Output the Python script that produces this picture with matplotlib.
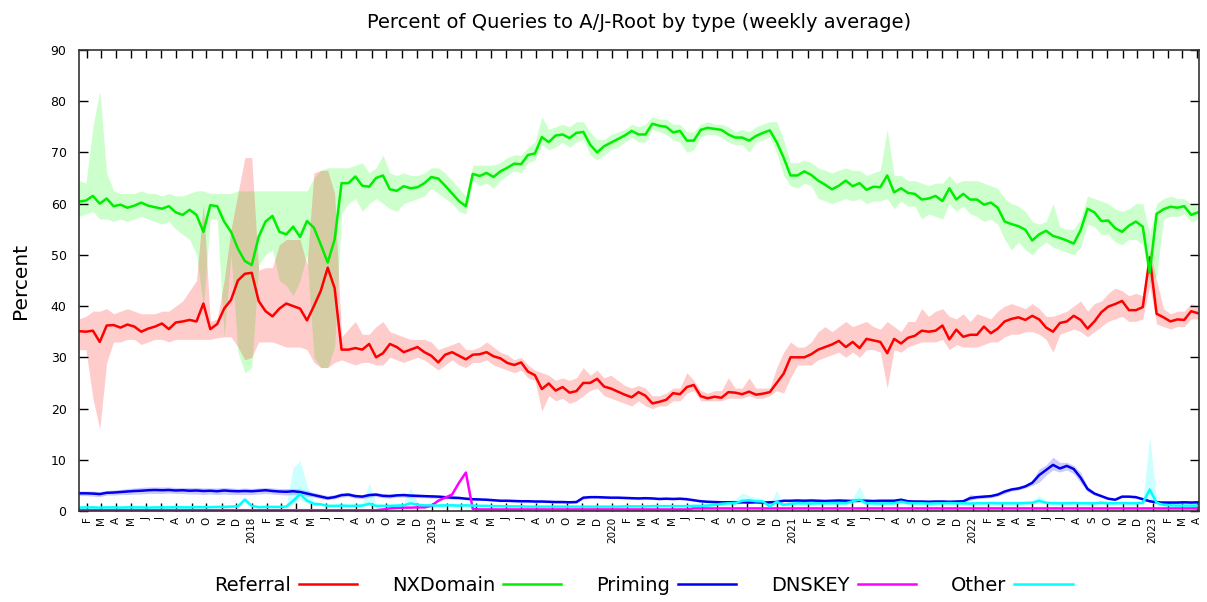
import pandas as pd
import matplotlib.pyplot as plt

# two-week samples
weeks = pd.date_range('2017-01-16', periods=163, freq='14D')

referral = [
    35.1, 35.0, 35.2, 33.0, 36.2, 36.3, 35.8, 36.4, 36.0, 35.0,
    35.6, 36.0, 36.6, 35.5, 36.8, 37.0, 37.3, 37.0, 40.5, 35.5,
    36.5, 39.5, 41.2, 45.0, 46.3, 46.5, 41.0, 39.0, 38.0, 39.5,
    40.5, 40.0, 39.5, 37.2, 40.0, 43.0, 47.5, 43.5, 31.5, 31.5,
    31.8, 31.5, 32.6, 30.0, 30.8, 32.6, 32.0, 31.0, 31.5, 32.0,
    31.0, 30.3, 29.0, 30.5, 31.0, 30.3, 29.6, 30.5, 30.6, 31.0,
    30.2, 29.8, 28.9, 28.5, 29.0, 27.2, 26.5, 23.8, 24.9, 23.5,
    24.2, 23.1, 23.4, 25.0, 25.0, 25.8, 24.3, 23.9, 23.3, 22.7,
    22.2, 23.2, 22.5, 21.0, 21.3, 21.7, 23.0, 22.8, 24.2, 24.6,
    22.4, 22.0, 22.3, 22.1, 23.2, 23.1, 22.8, 23.3, 22.7, 22.9,
    23.2, 25.0, 26.8, 30.0, 30.0, 30.0, 30.6, 31.5, 32.0, 32.5,
    33.2, 32.0, 33.0, 31.8, 33.6, 33.3, 33.0, 30.8, 33.6, 32.7,
    33.8, 34.2, 35.2, 35.0, 35.2, 36.2, 33.5, 35.4, 34.0, 34.4,
    34.4, 36.0, 34.7, 35.6, 37.0, 37.5, 37.8, 37.3, 38.1, 37.4,
    35.8, 35.0, 36.7, 37.0, 38.1, 37.3, 35.6, 37.0, 38.8, 39.9,
    40.4, 41.0, 39.2, 39.2, 39.8, 49.5, 38.5, 37.8, 37.0, 37.4,
    37.3, 39.0, 38.6]
referral_hi = [
    37.5, 38.0, 39.0, 39.0, 39.5, 38.5, 39.0, 39.5, 39.0, 38.5,
    38.5, 38.5, 39.0, 39.0, 40.0, 41.0, 43.0, 45.0, 60.0, 37.0,
    37.5, 45.0, 55.0, 62.0, 69.0, 69.0, 47.0, 47.5, 47.5, 52.0,
    53.0, 53.0, 53.0, 48.0, 66.0, 66.5, 66.5, 62.0, 34.0, 35.5,
    37.0, 34.5, 34.5, 36.0, 37.0, 35.0, 34.5, 34.0, 33.5, 33.5,
    33.5, 33.0, 31.5, 32.0, 32.5, 33.0, 31.5, 31.5, 32.0, 33.0,
    32.0, 31.0, 30.5, 29.5, 30.0, 28.5, 27.5, 27.0, 26.5, 25.5,
    26.0, 25.5, 26.0, 28.0, 26.5, 27.5, 26.0, 26.5, 25.5, 24.5,
    24.0, 24.5, 24.0, 22.5, 22.5, 23.0, 24.0, 24.0, 27.0, 25.5,
    23.5, 23.0, 23.5, 23.5, 26.0, 24.0, 24.0, 26.0, 24.0, 24.0,
    24.0, 28.0, 31.0, 33.0, 32.0, 32.0, 33.0, 35.0, 36.0, 35.0,
    36.0, 37.0, 36.0, 36.5, 37.0, 36.0, 35.5, 37.0, 36.0, 35.0,
    37.0, 37.0, 39.5, 38.0, 39.0, 39.5, 38.0, 37.5, 38.5, 37.0,
    38.5, 38.0, 37.5, 39.0, 40.0, 40.5, 40.0, 39.5, 40.5, 39.5,
    38.0, 38.0, 38.5, 39.0, 40.0, 41.0, 39.0, 40.5, 41.0, 42.5,
    43.5, 43.0, 42.0, 42.5, 42.0, 51.0, 45.0, 39.5, 38.5, 39.0,
    39.0, 40.5, 40.0]
referral_lo = [
    31.5, 31.5, 22.0, 16.0, 29.0, 33.0, 33.0, 33.5, 33.5, 32.5,
    33.0, 33.5, 33.5, 33.0, 33.5, 33.5, 33.5, 33.5, 33.5, 33.5,
    33.8, 34.0, 34.0, 32.0, 29.5, 30.0, 33.0, 33.0, 33.0, 32.5,
    32.0, 32.0, 32.0, 31.5, 29.0, 28.0, 28.0, 29.0, 29.5, 29.0,
    28.5, 29.0, 29.0, 28.5, 28.5, 30.0, 29.5, 29.0, 29.5, 30.0,
    29.5, 28.5, 27.5, 28.5, 29.5, 28.5, 28.0, 29.0, 29.0, 29.5,
    28.5, 28.0, 27.5, 27.0, 27.5, 26.0, 25.5, 19.5, 22.5, 21.5,
    22.0, 21.0, 21.5, 22.5, 23.5, 24.0, 22.5, 22.0, 21.5, 21.0,
    20.5, 21.5, 20.5, 20.0, 20.5, 20.5, 21.5, 21.5, 23.0, 23.5,
    21.5, 21.5, 21.5, 21.5, 22.0, 22.0, 22.0, 22.5, 22.0, 22.0,
    22.5, 23.5, 23.0, 26.0, 28.5, 28.5, 28.5, 29.5, 30.0, 30.5,
    31.0, 30.0, 31.0, 30.0, 31.5, 31.5, 31.0, 24.0, 31.5, 31.0,
    32.0, 32.5, 33.0, 33.0, 33.0, 33.5, 31.5, 32.5, 32.0, 32.0,
    32.0, 32.5, 33.0, 33.0, 34.0, 34.5, 34.5, 35.0, 35.0, 34.5,
    33.5, 31.0, 34.5, 35.0, 35.5, 35.0, 34.0, 35.0, 36.0, 37.0,
    37.5, 38.0, 37.0, 37.0, 37.5, 44.0, 36.5, 36.0, 35.5, 36.0,
    36.0, 37.5, 37.5]

nxdomain = [
    60.4, 60.6, 61.5, 60.0, 61.0, 59.5, 59.8, 59.2, 59.6, 60.2,
    59.6, 59.3, 59.0, 59.5, 58.3, 57.8, 58.8, 57.8, 54.5, 59.7,
    59.5, 56.5, 54.5, 51.2, 48.8, 48.0, 53.5, 56.5, 57.6, 54.5,
    54.0, 55.5, 53.5, 56.6, 55.3, 52.0, 48.5, 53.0, 64.0, 64.0,
    65.3, 63.5, 63.3, 65.0, 65.5, 62.8, 62.5, 63.4, 63.0, 63.2,
    64.0, 65.2, 64.9, 63.5, 62.0, 60.5, 59.5, 65.8, 65.4, 66.0,
    65.2, 66.3, 67.0, 67.8, 67.7, 69.5, 69.8, 73.0, 72.0, 73.3,
    73.5, 72.8, 73.8, 74.0, 71.5, 70.0, 71.2, 71.9, 72.6, 73.3,
    74.2, 73.5, 73.5, 75.6, 75.2, 75.0, 73.9, 74.2, 72.3, 72.3,
    74.4, 74.8, 74.6, 74.4, 73.5, 72.9, 72.9, 72.3, 73.2, 73.8,
    74.3, 72.0, 69.0, 65.5, 65.5, 66.3, 65.6, 64.5, 63.7, 62.8,
    63.5, 64.5, 63.4, 64.0, 62.7, 63.3, 63.2, 65.5, 62.2, 63.0,
    62.1, 61.9, 60.8, 61.0, 61.5, 60.5, 63.0, 60.8, 61.9, 60.8,
    60.8, 59.8, 60.2, 59.2, 56.5, 56.0, 55.6, 54.9, 52.8, 54.0,
    54.7, 53.7, 53.3, 52.8, 52.2, 54.8, 59.0, 58.3, 56.6, 56.7,
    55.2, 54.5, 55.7, 56.5, 55.5, 46.5, 58.0, 58.9, 59.4, 59.2,
    59.5, 57.8, 58.3]
nxdomain_hi = [
    64.5, 64.0, 75.0, 82.0, 66.0, 62.5, 62.0, 62.0, 62.0, 62.5,
    62.0, 62.0, 61.5, 62.0, 61.5, 61.5, 62.0, 62.5, 62.5, 62.0,
    62.0, 62.0, 62.0, 62.5, 62.5, 62.5, 62.5, 62.5, 62.5, 62.5,
    62.5, 62.5, 62.5, 62.5, 65.0, 66.5, 67.0, 67.0, 67.0, 67.0,
    67.5, 68.0, 66.0, 67.0, 69.5, 66.0, 65.5, 66.0, 65.5, 65.5,
    66.0, 67.0, 67.0, 66.0, 64.5, 63.0, 61.5, 67.5, 67.5, 67.5,
    67.5, 68.0, 69.0, 69.5, 69.5, 71.0, 72.0, 77.0, 74.5, 75.0,
    75.5, 75.0, 76.0, 76.0, 74.0, 72.5, 72.5, 73.5, 74.0, 74.5,
    75.5, 75.0, 75.5, 77.0, 76.5, 76.5, 75.5, 75.5, 74.0, 74.0,
    75.5, 76.0, 75.5, 75.5, 75.0, 74.0, 74.5, 74.0, 75.0, 75.5,
    76.0, 76.0, 72.5, 68.0, 68.0, 68.5, 68.0, 67.0, 66.5, 66.0,
    66.5, 67.0, 66.5, 66.5, 65.5, 66.0, 66.5, 74.5, 65.5, 65.5,
    64.5, 64.5, 64.0, 63.5, 64.0, 64.0, 65.5, 64.0, 64.5, 64.5,
    64.5, 64.0, 63.5, 63.0, 61.0, 60.0, 59.5, 58.5, 56.5, 56.0,
    56.5, 60.0, 55.5, 55.0, 55.0, 57.0, 61.5, 61.0, 60.5, 60.0,
    59.0, 58.5, 59.0, 60.0, 60.0, 54.0, 60.0, 61.0, 61.5, 61.0,
    61.0, 60.0, 59.5]
nxdomain_lo = [
    57.5, 58.0, 58.5, 57.0, 57.0, 56.5, 57.0, 56.5, 57.0, 57.5,
    57.0, 56.5, 56.0, 56.5, 55.0, 54.0, 53.0, 50.0, 40.0, 57.0,
    57.0, 34.0, 50.0, 31.0, 27.0, 28.0, 48.0, 50.0, 51.0, 45.0,
    44.0, 42.0, 45.0, 50.0, 30.0, 28.0, 28.0, 32.0, 58.0, 60.0,
    61.0, 58.5, 60.0, 61.0, 60.0, 59.0, 58.5, 60.0, 60.5, 61.0,
    61.5, 63.0, 62.0, 61.0, 60.0, 58.5, 58.0, 64.5, 63.5, 64.0,
    63.0, 64.5, 65.5, 66.5, 66.0, 68.0, 68.5, 71.5, 70.5, 71.0,
    72.0, 71.0, 72.0, 72.5, 69.5, 68.5, 69.5, 70.5, 71.0, 72.0,
    73.0, 72.0, 72.0, 74.5, 74.0, 73.5, 72.5, 72.0, 70.0, 70.5,
    73.0, 73.5, 73.5, 73.0, 72.0, 71.5, 71.5, 70.0, 72.0, 72.5,
    73.0, 70.0, 65.5, 63.5, 63.0, 64.0, 63.5, 61.0, 60.5, 60.0,
    60.5, 61.0, 60.5, 61.0, 60.0, 60.5, 60.5, 61.0, 59.0, 60.5,
    59.5, 59.5, 57.0, 58.0, 57.5, 57.0, 60.0, 58.5, 59.5, 58.0,
    57.5, 56.5, 57.0, 56.0, 53.0, 51.0, 52.5, 51.0, 50.0, 51.5,
    52.5, 51.5, 51.0, 50.5, 50.0, 51.5, 56.0, 55.5, 54.0, 54.0,
    52.5, 52.0, 53.0, 53.0, 52.0, 44.5, 46.0, 57.0, 57.5, 57.5,
    58.0, 56.5, 57.0]

priming = [
    3.45, 3.45, 3.4, 3.3, 3.55, 3.6, 3.7, 3.8, 3.9, 3.95,
    4.05, 4.1, 4.05, 4.1, 4.0, 4.05, 3.95, 4.0, 3.9, 3.95,
    3.85, 4.0, 3.9, 3.85, 3.9, 3.85, 3.95, 4.05, 3.9, 3.8,
    3.75, 3.85, 3.7, 3.4, 3.1, 2.8, 2.5, 2.7, 3.1, 3.2,
    2.9, 2.8, 3.1, 3.2, 2.95, 2.9, 3.05, 3.1, 3.0, 2.95,
    2.9, 2.85, 2.8, 2.7, 2.6, 2.55, 2.4, 2.3, 2.25, 2.2,
    2.1, 2.0, 2.0, 1.95, 1.9, 1.9, 1.85, 1.85, 1.8, 1.75,
    1.75, 1.7, 1.75, 2.6, 2.7, 2.7, 2.65, 2.6, 2.6, 2.55,
    2.5, 2.45, 2.5, 2.45, 2.35, 2.4, 2.35, 2.4, 2.3, 2.1,
    1.9, 1.8, 1.75, 1.7, 1.7, 1.65, 1.7, 1.65, 1.7, 1.65,
    1.7, 1.75, 2.0, 2.0, 2.05, 2.0, 2.05, 2.0, 1.95, 2.0,
    2.05, 2.0, 1.95, 2.0, 2.0, 1.95, 2.0, 2.0, 2.0, 2.2,
    1.9, 1.85, 1.85, 1.8, 1.85, 1.85, 1.8, 1.85, 1.9, 2.5,
    2.7, 2.8, 2.9, 3.2, 3.8, 4.2, 4.4, 4.8, 5.5, 7.0,
    8.0, 9.0, 8.3, 8.8, 8.2, 6.5, 4.3, 3.4, 2.9, 2.4,
    2.2, 2.8, 2.8, 2.7, 2.3, 1.9, 1.7, 1.65, 1.65, 1.65,
    1.7, 1.65, 1.7]
priming_hi = [
    3.9, 3.9, 3.9, 3.8, 4.0, 4.1, 4.2, 4.4, 4.5, 4.6,
    4.7, 4.7, 4.7, 4.7, 4.6, 4.6, 4.6, 4.6, 4.5, 4.5,
    4.5, 4.6, 4.5, 4.4, 4.5, 4.4, 4.5, 4.6, 4.5, 4.4,
    4.4, 4.4, 4.3, 4.0, 3.6, 3.3, 3.0, 3.2, 3.5, 3.6,
    3.3, 3.2, 3.5, 3.6, 3.4, 3.3, 3.4, 3.5, 3.4, 3.3,
    3.2, 3.2, 3.1, 3.0, 2.9, 2.8, 2.7, 2.6, 2.5, 2.4,
    2.3, 2.2, 2.2, 2.1, 2.1, 2.1, 2.0, 2.0, 2.0, 1.9,
    1.9, 1.9, 2.0, 2.8, 2.9, 2.9, 2.85, 2.8, 2.8, 2.75,
    2.7, 2.65, 2.7, 2.65, 2.55, 2.6, 2.55, 2.6, 2.5, 2.3,
    2.1, 2.0, 1.95, 1.9, 1.9, 1.85, 1.9, 1.85, 1.9, 1.85,
    1.9, 1.95, 2.2, 2.2, 2.25, 2.2, 2.25, 2.2, 2.15, 2.2,
    2.25, 2.2, 2.15, 2.2, 2.2, 2.15, 2.2, 2.2, 2.2, 2.5,
    2.1, 2.05, 2.05, 2.0, 2.05, 2.05, 2.0, 2.05, 2.1, 3.2,
    3.0, 3.1, 3.2, 3.5, 4.1, 4.5, 4.7, 5.1, 6.0, 8.2,
    9.0, 10.5, 9.5, 9.5, 8.9, 7.5, 4.8, 3.7, 3.1, 2.6,
    2.4, 3.0, 3.0, 2.9, 2.5, 2.1, 1.9, 1.85, 1.85, 1.85,
    1.9, 1.85, 1.9]
priming_lo = [
    3.0, 3.0, 2.9, 2.8, 3.1, 3.1, 3.2, 3.2, 3.3, 3.3,
    3.4, 3.4, 3.4, 3.5, 3.4, 3.4, 3.3, 3.3, 3.2, 3.3,
    3.2, 3.3, 3.2, 3.2, 3.2, 3.2, 3.3, 3.4, 3.3, 3.2,
    3.1, 3.2, 3.1, 2.9, 2.7, 2.4, 2.2, 2.4, 2.7, 2.8,
    2.5, 2.4, 2.7, 2.8, 2.6, 2.5, 2.7, 2.7, 2.6, 2.6,
    2.6, 2.5, 2.5, 2.4, 2.3, 2.3, 2.2, 2.1, 2.05, 2.0,
    1.9, 1.8, 1.8, 1.75, 1.7, 1.7, 1.65, 1.65, 1.6, 1.55,
    1.55, 1.5, 1.5, 2.3, 2.5, 2.5, 2.45, 2.4, 2.4, 2.35,
    2.3, 2.25, 2.3, 2.25, 2.15, 2.2, 2.15, 2.2, 2.1, 1.9,
    1.7, 1.6, 1.55, 1.5, 1.5, 1.45, 1.5, 1.45, 1.5, 1.45,
    1.5, 1.55, 1.8, 1.8, 1.85, 1.8, 1.85, 1.8, 1.75, 1.8,
    1.85, 1.8, 1.75, 1.8, 1.8, 1.75, 1.8, 1.8, 1.8, 1.9,
    1.7, 1.65, 1.65, 1.6, 1.65, 1.65, 1.6, 1.65, 1.7, 2.1,
    2.4, 2.5, 2.6, 2.9, 3.4, 3.9, 4.1, 4.5, 5.0, 5.6,
    7.0, 8.0, 7.6, 8.0, 7.3, 5.5, 3.8, 3.1, 2.7, 2.2,
    2.0, 2.6, 2.6, 2.5, 2.1, 1.7, 1.5, 1.45, 1.45, 1.45,
    1.5, 1.45, 1.5]

dnskey = [
    0.15, 0.15, 0.15, 0.15, 0.15, 0.15, 0.15, 0.15, 0.15, 0.15,
    0.15, 0.15, 0.15, 0.15, 0.15, 0.15, 0.15, 0.15, 0.15, 0.15,
    0.15, 0.15, 0.15, 0.15, 0.15, 0.15, 0.15, 0.15, 0.15, 0.15,
    0.15, 0.15, 0.15, 0.15, 0.15, 0.15, 0.15, 0.15, 0.15, 0.15,
    0.15, 0.15, 0.15, 0.15, 0.3, 0.5, 0.6, 0.65, 0.65, 0.7,
    0.7, 1.0, 2.0, 2.6, 3.2, 5.5, 7.5, 0.4, 0.3, 0.3,
    0.3, 0.3, 0.3, 0.3, 0.3, 0.3, 0.3, 0.3, 0.3, 0.3,
    0.3, 0.3, 0.3, 0.3, 0.3, 0.3, 0.3, 0.3, 0.3, 0.3,
    0.3, 0.3, 0.3, 0.3, 0.3, 0.3, 0.3, 0.3, 0.3, 0.5,
    0.5, 0.5, 0.5, 0.5, 0.5, 0.5, 0.5, 0.5, 0.5, 0.5,
    0.5, 0.5, 0.5, 0.5, 0.5, 0.5, 0.5, 0.5, 0.5, 0.5,
    0.5, 0.5, 0.5, 0.5, 0.5, 0.5, 0.5, 0.5, 0.5, 0.5,
    0.5, 0.5, 0.5, 0.5, 0.5, 0.5, 0.5, 0.5, 0.5, 0.5,
    0.5, 0.5, 0.5, 0.5, 0.5, 0.5, 0.5, 0.5, 0.5, 0.5,
    0.5, 0.5, 0.5, 0.5, 0.5, 0.5, 0.5, 0.5, 0.5, 0.5,
    0.5, 0.5, 0.5, 0.5, 0.5, 0.5, 0.5, 0.5, 0.5, 0.5,
    0.5, 0.5, 0.5]

other = [
    0.65, 0.7, 0.7, 0.65, 0.7, 0.7, 0.65, 0.7, 0.7, 0.7,
    0.65, 0.7, 0.7, 0.7, 0.75, 0.7, 0.7, 0.75, 0.75, 0.75,
    0.8, 0.8, 0.85, 0.9, 2.2, 1.0, 0.75, 0.8, 0.8, 0.8,
    0.85, 2.0, 3.3, 2.0, 1.4, 1.3, 1.0, 1.0, 1.05, 1.0,
    1.0, 1.05, 1.4, 1.0, 1.0, 1.0, 1.05, 1.1, 1.5, 1.2,
    1.1, 1.1, 1.05, 1.1, 1.1, 1.05, 1.1, 1.05, 1.0, 1.0,
    0.95, 0.95, 0.9, 0.9, 0.9, 0.85, 0.85, 0.85, 0.85, 0.85,
    0.85, 0.85, 0.85, 0.85, 0.85, 0.85, 0.85, 0.85, 0.85, 0.9,
    0.9, 0.9, 0.9, 0.95, 0.95, 0.95, 0.95, 0.95, 0.95, 1.0,
    1.0, 1.05, 1.2, 1.4, 1.5, 1.5, 2.0, 2.1, 1.9, 1.85,
    0.9, 1.8, 1.2, 1.4, 1.5, 1.5, 1.45, 1.5, 1.5, 1.55,
    1.5, 1.5, 1.9, 2.2, 1.5, 1.5, 1.45, 1.5, 1.5, 1.8,
    1.55, 1.5, 1.5, 1.45, 1.5, 1.5, 1.55, 1.5, 1.5, 1.45,
    1.5, 1.5, 1.55, 1.5, 1.5, 1.5, 1.5, 1.55, 1.6, 2.0,
    1.6, 1.5, 1.5, 1.5, 1.55, 1.5, 1.5, 1.5, 1.6, 1.5,
    1.5, 1.55, 1.5, 1.5, 1.6, 4.2, 1.6, 1.2, 1.1, 1.05,
    1.05, 1.05, 1.05]
other_hi = [
    0.95, 1.0, 1.0, 0.95, 1.0, 1.0, 0.95, 1.0, 1.0, 1.0,
    0.95, 1.0, 1.0, 1.0, 1.05, 1.0, 1.0, 1.05, 1.05, 1.05,
    1.1, 1.1, 1.15, 1.3, 2.8, 1.4, 1.05, 1.1, 1.1, 1.1,
    1.2, 8.5, 9.8, 5.0, 1.8, 1.6, 1.3, 1.3, 1.35, 1.3,
    1.3, 1.4, 5.5, 1.3, 1.3, 1.3, 1.35, 1.5, 4.6, 1.6,
    1.4, 1.4, 1.35, 1.4, 1.4, 1.35, 1.4, 1.35, 1.3, 1.3,
    1.25, 1.25, 1.2, 1.2, 1.2, 1.15, 1.15, 1.15, 1.15, 1.15,
    1.15, 1.15, 1.15, 1.15, 1.15, 1.15, 1.15, 1.15, 1.15, 1.2,
    1.2, 1.2, 1.2, 1.25, 1.25, 1.25, 1.25, 1.25, 1.25, 1.3,
    1.3, 1.4, 1.6, 1.9, 2.1, 2.3, 3.5, 3.0, 2.6, 2.4,
    1.3, 4.0, 1.6, 1.8, 1.9, 1.9, 1.85, 1.9, 1.9, 1.95,
    1.9, 1.9, 2.6, 4.8, 1.9, 1.9, 1.85, 1.9, 1.9, 2.6,
    1.95, 1.9, 1.9, 1.85, 1.9, 1.9, 1.95, 1.9, 1.9, 1.85,
    1.9, 1.9, 1.95, 1.9, 1.9, 1.9, 1.9, 1.95, 2.0, 3.0,
    2.0, 1.9, 1.9, 1.9, 1.95, 1.9, 1.9, 1.9, 2.0, 1.9,
    1.9, 1.95, 1.9, 1.9, 2.0, 14.5, 2.2, 1.5, 1.4, 1.35,
    1.35, 1.35, 1.35]
other_lo = [
    0.45, 0.5, 0.5, 0.45, 0.5, 0.5, 0.45, 0.5, 0.5, 0.5,
    0.45, 0.5, 0.5, 0.5, 0.55, 0.5, 0.5, 0.55, 0.55, 0.55,
    0.6, 0.6, 0.65, 0.7, 1.6, 0.8, 0.55, 0.6, 0.6, 0.6,
    0.65, 1.4, 2.2, 1.5, 1.1, 1.0, 0.8, 0.8, 0.85, 0.8,
    0.8, 0.85, 1.1, 0.8, 0.8, 0.8, 0.85, 0.9, 1.2, 1.0,
    0.9, 0.9, 0.85, 0.9, 0.9, 0.85, 0.9, 0.85, 0.8, 0.8,
    0.75, 0.75, 0.7, 0.7, 0.7, 0.65, 0.65, 0.65, 0.65, 0.65,
    0.65, 0.65, 0.65, 0.65, 0.65, 0.65, 0.65, 0.65, 0.65, 0.7,
    0.7, 0.7, 0.7, 0.75, 0.75, 0.75, 0.75, 0.75, 0.75, 0.8,
    0.8, 0.85, 0.95, 1.1, 1.2, 1.2, 1.5, 1.6, 1.5, 1.4,
    0.7, 1.3, 1.0, 1.1, 1.2, 1.2, 1.15, 1.2, 1.2, 1.25,
    1.2, 1.2, 1.5, 1.6, 1.2, 1.2, 1.15, 1.2, 1.2, 1.4,
    1.25, 1.2, 1.2, 1.15, 1.2, 1.2, 1.25, 1.2, 1.2, 1.15,
    1.2, 1.2, 1.25, 1.2, 1.2, 1.2, 1.2, 1.25, 1.3, 1.6,
    1.3, 1.2, 1.2, 1.2, 1.25, 1.2, 1.2, 1.2, 1.3, 1.2,
    1.2, 1.25, 1.2, 1.2, 1.3, 2.5, 1.3, 0.95, 0.85, 0.8,
    0.8, 0.8, 0.8]

# month ticks; January gets the year
months = pd.date_range('2017-02-01', '2023-04-01', freq='MS')
month_labels = [str(d.year) if d.month == 1 else 'JFMAMJJASOND'[d.month - 1] for d in months]

fig = plt.figure(figsize=(12.07, 6.02), dpi=100)
ax = fig.add_axes([0.0655, 0.1512, 0.9279, 0.7658])

ax.fill_between(weeks, nxdomain_lo, nxdomain_hi, color='#00ff00', alpha=0.2, lw=0)
ax.fill_between(weeks, referral_lo, referral_hi, color='#ff0000', alpha=0.2, lw=0)
ax.fill_between(weeks, priming_lo, priming_hi, color='#0000ff', alpha=0.2, lw=0)
ax.fill_between(weeks, other_lo, other_hi, color='#00ffff', alpha=0.2, lw=0)

ax.plot(weeks, referral, color='#ff0000', lw=1.8, label='Referral')
ax.plot(weeks, nxdomain, color='#00ee00', lw=1.8, label='NXDomain')
ax.plot(weeks, priming, color='#0000ee', lw=1.8, label='Priming')
ax.plot(weeks, dnskey, color='#ff00ff', lw=1.8, label='DNSKEY')
ax.plot(weeks, other, color='#00ffff', lw=1.8, label='Other')

ax.set_xlim(pd.Timestamp('2017-01-16'), pd.Timestamp('2023-04-05'))
ax.set_ylim(0, 90)
ax.set_yticks(range(0, 91, 10))
ax.set_xticks(months)
ax.set_xticklabels(month_labels, rotation=90, fontsize=7.5)
ax.tick_params(axis='x', direction='in', top=True, length=5.5, pad=4, width=1)
ax.tick_params(axis='y', direction='in', right=True, length=6.5, pad=9, labelsize=9, width=1)
for s in ax.spines.values():
    s.set_linewidth(1.2)
    s.set_color('#333333')

ax.set_title('Percent of Queries to A/J-Root by type (weekly average)', fontsize=14, pad=16)
ax.set_ylabel('Percent', fontsize=14.5, labelpad=15)

fig.legend(loc='center', bbox_to_anchor=(0.533, 0.028), ncol=5, markerfirst=False,
           frameon=False, fontsize=14, handlelength=3.0, handletextpad=0.4,
           columnspacing=1.8)

fig.savefig('out.png', dpi=100)
